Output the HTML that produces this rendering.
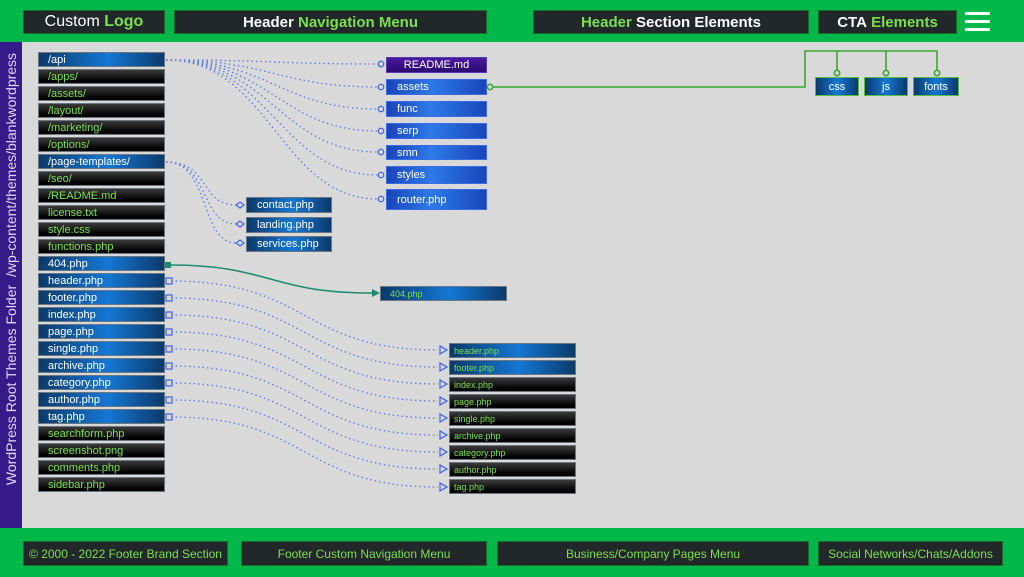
<!DOCTYPE html>
<html><head><meta charset="utf-8"><style>
*{margin:0;padding:0;box-sizing:border-box}
body{width:1024px;height:577px;position:relative;overflow:hidden;background:#d9d9d9;font-family:"Liberation Sans",sans-serif}
.a{position:absolute}
.hb{position:absolute;background:#22272a;border:1px solid #1a6a2a;color:#fff;font-weight:bold;font-size:15px;display:flex;align-items:center;justify-content:center}
.g{color:#7be04a}
.fb{position:absolute;background:#22272a;border:1px solid #1a6a2a;color:#7be04a;font-size:12px;display:flex;align-items:center;justify-content:center}
.n{position:absolute;height:15px;font-size:11px;display:flex;align-items:center;padding-left:9px;border:1px solid #6a7680}
.bk{background:linear-gradient(#3a3a3a,#000 85%);color:#7be04a}
.bl{background:linear-gradient(90deg,#0b3a6a,#1577d4 55%,#0b3a6a);color:#fff}
.bl2{background:linear-gradient(90deg,#0b3a6a,#1577d4 55%,#0b3a6a);color:#7be04a}
.rb{position:absolute;left:386px;width:101px;font-size:11px;color:#fff;display:flex;align-items:center;padding-left:10px;border:1px solid #3a6ae8;background:linear-gradient(90deg,#1a45b8,#2d7ae8 45%,#1a45b8)}
.gn{position:absolute;top:77px;height:19px;font-size:11px;color:#fff;display:flex;align-items:center;justify-content:center;border:1px solid #55c040;background:linear-gradient(90deg,#0b3a6a,#1577d4 50%,#0b3a6a)}
</style></head><body>
<div class="a" style="left:0;top:0;width:1024px;height:42px;background:#00b84a"></div>
<div class="hb" style="left:23px;top:10px;width:142px;height:24px;font-weight:normal;font-size:16px">Custom&nbsp;<b class="g">Logo</b></div>
<div class="hb" style="left:174px;top:10px;width:313px;height:24px">Header&nbsp;<span class="g">Navigation Menu</span></div>
<div class="hb" style="left:533px;top:10px;width:276px;height:24px"><span class="g">Header</span>&nbsp;Section Elements</div>
<div class="hb" style="left:818px;top:10px;width:139px;height:24px">CTA&nbsp;<span class="g">Elements</span></div>
<div class="a" style="left:965px;top:12px;width:25px;height:3px;background:#fff"></div>
<div class="a" style="left:965px;top:20px;width:25px;height:3px;background:#fff"></div>
<div class="a" style="left:965px;top:28px;width:25px;height:3px;background:#fff"></div>

<div class="a" style="left:0;top:42px;width:22px;height:486px;background:#361a8a"></div>
<div class="a" style="left:11px;top:269px;width:460px;height:16px;margin-left:-230px;margin-top:-8px;transform:rotate(-90deg);color:#dcdcf0;font-size:14px;text-align:center;white-space:nowrap">WordPress Root Themes Folder&nbsp; /wp-content/themes/blankwordpress</div>

<div class="a" style="left:0;top:528px;width:1024px;height:49px;background:#00b84a"></div>
<div class="fb" style="left:23px;top:541px;width:205px;height:25px">© 2000 - 2022 Footer Brand Section</div>
<div class="fb" style="left:241px;top:541px;width:246px;height:25px">Footer Custom Navigation Menu</div>
<div class="fb" style="left:497px;top:541px;width:312px;height:25px">Business/Company Pages Menu</div>
<div class="fb" style="left:818px;top:541px;width:185px;height:25px">Social Networks/Chats/Addons</div>

<div class="n bl" style="left:38px;top:52px;width:127px">/api</div>
<div class="n bk" style="left:38px;top:69px;width:127px">/apps/</div>
<div class="n bk" style="left:38px;top:86px;width:127px">/assets/</div>
<div class="n bk" style="left:38px;top:103px;width:127px">/layout/</div>
<div class="n bk" style="left:38px;top:120px;width:127px">/marketing/</div>
<div class="n bk" style="left:38px;top:137px;width:127px">/options/</div>
<div class="n bl" style="left:38px;top:154px;width:127px">/page-templates/</div>
<div class="n bk" style="left:38px;top:171px;width:127px">/seo/</div>
<div class="n bk" style="left:38px;top:188px;width:127px">/README.md</div>
<div class="n bk" style="left:38px;top:205px;width:127px">license.txt</div>
<div class="n bk" style="left:38px;top:222px;width:127px">style.css</div>
<div class="n bk" style="left:38px;top:239px;width:127px">functions.php</div>
<div class="n bl" style="left:38px;top:256px;width:127px">404.php</div>
<div class="n bl" style="left:38px;top:273px;width:127px">header.php</div>
<div class="n bl" style="left:38px;top:290px;width:127px">footer.php</div>
<div class="n bl" style="left:38px;top:307px;width:127px">index.php</div>
<div class="n bl" style="left:38px;top:324px;width:127px">page.php</div>
<div class="n bl" style="left:38px;top:341px;width:127px">single.php</div>
<div class="n bl" style="left:38px;top:358px;width:127px">archive.php</div>
<div class="n bl" style="left:38px;top:375px;width:127px">category.php</div>
<div class="n bl" style="left:38px;top:392px;width:127px">author.php</div>
<div class="n bl" style="left:38px;top:409px;width:127px">tag.php</div>
<div class="n bk" style="left:38px;top:426px;width:127px">searchform.php</div>
<div class="n bk" style="left:38px;top:443px;width:127px">screenshot.png</div>
<div class="n bk" style="left:38px;top:460px;width:127px">comments.php</div>
<div class="n bk" style="left:38px;top:477px;width:127px">sidebar.php</div>

<div class="rb" style="top:57px;height:16px;justify-content:center;padding-left:0;background:linear-gradient(#4a1aa0,#2a0a70);border-color:#5a3ab0">README.md</div>
<div class="rb" style="top:79px;height:16px">assets</div>
<div class="rb" style="top:101px;height:16px">func</div>
<div class="rb" style="top:123px;height:16px">serp</div>
<div class="rb" style="top:145px;height:15px">smn</div>
<div class="rb" style="top:166px;height:18px">styles</div>
<div class="rb" style="top:189px;height:21px">router.php</div>

<div class="gn" style="left:815px;width:44px">css</div>
<div class="gn" style="left:864px;width:44px">js</div>
<div class="gn" style="left:913px;width:46px">fonts</div>

<div class="n bl" style="left:246px;top:197px;width:86px;height:16px;padding-left:10px">contact.php</div>
<div class="n bl" style="left:246px;top:217px;width:86px;height:16px;padding-left:10px">landing.php</div>
<div class="n bl" style="left:246px;top:236px;width:86px;height:16px;padding-left:10px">services.php</div>

<div class="n bl2" style="left:380px;top:286px;width:127px;font-size:9px">404.php</div>

<div class="n bl2" style="left:449px;top:343px;width:127px;font-size:9px;padding-left:4px">header.php</div>
<div class="n bl2" style="left:449px;top:360px;width:127px;font-size:9px;padding-left:4px">footer.php</div>
<div class="n bk" style="left:449px;top:377px;width:127px;font-size:9px;padding-left:4px">index.php</div>
<div class="n bk" style="left:449px;top:394px;width:127px;font-size:9px;padding-left:4px">page.php</div>
<div class="n bk" style="left:449px;top:411px;width:127px;font-size:9px;padding-left:4px">single.php</div>
<div class="n bk" style="left:449px;top:428px;width:127px;font-size:9px;padding-left:4px">archive.php</div>
<div class="n bk" style="left:449px;top:445px;width:127px;font-size:9px;padding-left:4px">category.php</div>
<div class="n bk" style="left:449px;top:462px;width:127px;font-size:9px;padding-left:4px">author.php</div>
<div class="n bk" style="left:449px;top:479px;width:127px;font-size:9px;padding-left:4px">tag.php</div>

<svg class="a" style="left:0;top:0" width="1024" height="577" viewBox="0 0 1024 577">
<g fill="none" stroke="#5a78e8" stroke-width="1.3" stroke-dasharray="1.5 3">
<path d="M166 60 C270 60 280 64 378 64"/>
<path d="M166 60 C270 60 280 87 378 87"/>
<path d="M166 60 C270 60 280 109 378 109"/>
<path d="M166 60 C270 60 280 131 378 131"/>
<path d="M166 60 C270 60 280 152 378 152"/>
<path d="M166 60 C270 60 280 175 378 175"/>
<path d="M166 60 C270 60 280 199 378 199"/>
<path d="M166 162 C210 162 200 205 236 205"/>
<path d="M166 162 C210 162 200 224 236 224"/>
<path d="M166 162 C210 162 200 243 236 243"/>
<path d="M171 281 C310 281 300 350 438 350"/>
<path d="M171 298 C310 298 300 367 438 367"/>
<path d="M171 315 C310 315 300 384 438 384"/>
<path d="M171 332 C310 332 300 401 438 401"/>
<path d="M171 349 C310 349 300 418 438 418"/>
<path d="M171 366 C310 366 300 435 438 435"/>
<path d="M171 383 C310 383 300 452 438 452"/>
<path d="M171 400 C310 400 300 469 438 469"/>
<path d="M171 417 C310 417 300 487 438 487"/>
</g>
<g fill="#d9d9d9" stroke="#4a6ae8" stroke-width="1.3">
<circle cx="381" cy="64" r="2.7"/><circle cx="381" cy="87" r="2.7"/><circle cx="381" cy="109" r="2.7"/><circle cx="381" cy="131" r="2.7"/><circle cx="381" cy="152" r="2.7"/><circle cx="381" cy="175" r="2.7"/><circle cx="381" cy="199" r="2.7"/>
<path d="M236 205 l4 -3 l4 3 l-4 3z"/><path d="M236 224 l4 -3 l4 3 l-4 3z"/><path d="M236 243 l4 -3 l4 3 l-4 3z"/>
<rect x="166" y="278" width="6" height="6"/><rect x="166" y="295" width="6" height="6"/><rect x="166" y="312" width="6" height="6"/><rect x="166" y="329" width="6" height="6"/><rect x="166" y="346" width="6" height="6"/><rect x="166" y="363" width="6" height="6"/><rect x="166" y="380" width="6" height="6"/><rect x="166" y="397" width="6" height="6"/><rect x="166" y="414" width="6" height="6"/>
<path d="M440 346 l7 4 l-7 4z"/><path d="M440 363 l7 4 l-7 4z"/><path d="M440 380 l7 4 l-7 4z"/><path d="M440 397 l7 4 l-7 4z"/><path d="M440 414 l7 4 l-7 4z"/><path d="M440 431 l7 4 l-7 4z"/><path d="M440 448 l7 4 l-7 4z"/><path d="M440 465 l7 4 l-7 4z"/><path d="M440 483 l7 4 l-7 4z"/>
</g>
<path d="M170 265 C270 265 270 293 372 293" fill="none" stroke="#1a8a70" stroke-width="1.5"/>
<rect x="165" y="262" width="6" height="6" fill="#1a8a70"/>
<path d="M372 289 l8 4 l-8 4z" fill="#1a8a70"/>
<g fill="none" stroke="#3aa830" stroke-width="1.6">
<path d="M493 87 H805 V51 H937 V70"/>
<path d="M837 51 V70"/><path d="M886 51 V70"/>
<circle cx="490" cy="87" r="2.7" fill="#d9d9d9"/>
<circle cx="837" cy="73" r="2.7" fill="#d9d9d9"/><circle cx="886" cy="73" r="2.7" fill="#d9d9d9"/><circle cx="937" cy="73" r="2.7" fill="#d9d9d9"/>
</g>
</svg>
</body></html>
